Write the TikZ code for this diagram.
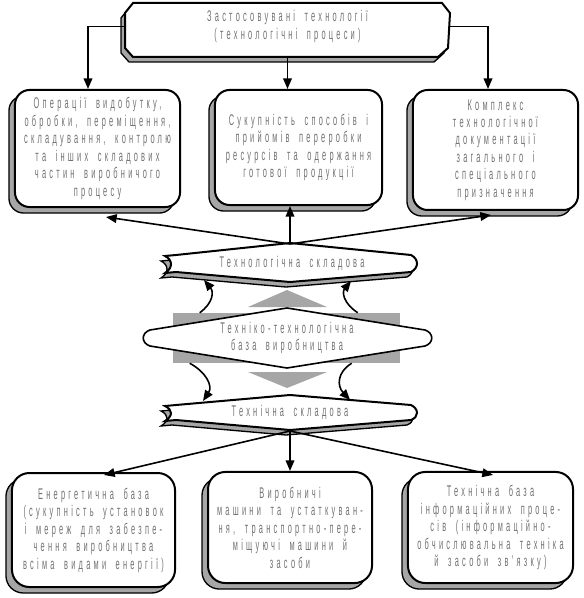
\documentclass[tikz,border=0pt]{standalone}
\usepackage{fontspec}
\setmainfont{Liberation Sans}[FakeStretch=0.48, LetterSpace=21, WordSpace=1.8]
\usetikzlibrary{shadows,calc,arrows.meta}
\newcommand\ribUpPath{(176,255) -- (290,243) -- (411,255) .. controls (419,259) and (419,268) .. (411,272) -- (290,282) -- (176,272) -- (165,273) .. controls (173,268) and (173,260) .. (165,256) -- cycle}
\newcommand\ribDnPath{(176,405) -- (290,395) -- (411,405) .. controls (419,409) and (419,417) .. (411,420) -- (290,430) -- (176,420) -- (165,421) .. controls (173,416) and (173,410) .. (165,406) -- cycle}
\newcommand\topBoxPath{(133,3) -- (442,3) -- (450,13) -- (448,48) -- (438,57) -- (133,57) -- (125,48) -- (125,13) -- cycle}
\newcommand\lensPath{(150,330) -- (287,308) -- (425,330) .. controls (434,333) and (434,343) .. (425,346) -- (287,368) -- (150,346) .. controls (141,343) and (141,333) .. (150,330) -- cycle}
\begin{document}
\begin{tikzpicture}[x=0.75pt,y=-0.75pt,
  txt/.style={font=\fontsize{11.6}{13.1}\selectfont, text=black!55, align=center},
  box/.style={txt, draw=black, line width=1.5pt, fill=white, rounded corners=11pt, inner sep=0pt,
     drop shadow={shadow xshift=-4.5pt, shadow yshift=-4.5pt, fill=gray!70, draw=black, line width=1pt, opacity=1}},
  lowbox/.style={box, rounded corners=13pt},
  arr/.style={line width=1.2pt, -{Triangle[length=8pt,width=6.5pt]}},
  shad/.style={fill=gray!70, draw=black, line width=1pt},
  face/.style={fill=white, draw=black, line width=1.5pt},
  graybit/.style={fill=gray!70, draw=none}]
\useasboundingbox (0,0) rectangle (583,598);

% central gray parts
\fill[graybit] (248,307) -- (327,307) -- (287,290) -- cycle;
\fill[graybit] (248,372) -- (327,372) -- (287,388) -- cycle;
\node[graybit, minimum width=170.25pt, minimum height=37.5pt, inner sep=0pt] (base) at (286.5,338) {};
\draw[face, line width=1.2pt] \lensPath;
\node[txt] (lens) at (287,338) {Техніко-технологічна\\база виробництва};

% ribbons
\draw[shad, shift={(-4,5)}] \ribUpPath;
\draw[face] \ribUpPath;
\node[txt] (rib1) at (292,263) {Технологічна складова};
\draw[shad, shift={(-4,5)}] \ribDnPath;
\draw[face] \ribDnPath;
\node[txt] (rib2) at (290,412) {Технічна складова};
\coordinate (r1t) at (290,244);
\coordinate (r2b) at (290,431);
\coordinate (r1l) at (204,280);
\coordinate (r1r) at (351,281);
\coordinate (r2l) at (203,401);
\coordinate (r2r) at (350,400);

% top box
\draw[shad, shift={(-4,5)}] \topBoxPath;
\draw[face] \topBoxPath;
\node[txt, minimum width=243.75pt, minimum height=45.75pt, inner sep=0pt] (tb) at (287.5,26.5)
  {Застосовувані технології\\(технологічні процеси)};

% upper boxes
\node[box, minimum width=123.8pt, minimum height=87.8pt] (b1) at (97.5,148.5)
  {Операції видобутку,\\обробки, переміщення,\\складування, контролю\\та інших складових\\частин виробничого\\процесу};
\node[box, minimum width=125.3pt, minimum height=86.3pt] (b2) at (298.5,147.5)
  {Сукупність способів і\\прийомів переробки\\ресурсів та одержання\\готової продукції};
\node[box, minimum width=123.8pt, minimum height=90pt] (b3) at (495.5,150)
  {Комплекс\\технологічної\\документації\\загального і\\спеціального\\призначення};

% lower boxes
\node[lowbox, minimum width=122.3pt, minimum height=85.5pt] (b4) at (93.5,530)
  {Енергетична база\\(сукупність установок\\і мереж для забезпе-\\чення виробництва\\всіма видами енергії)};
\node[lowbox, minimum width=123pt, minimum height=83.3pt] (b5) at (290,527.5)
  {Виробничі\\машини та устаткуван-\\ня, транспортно-пере-\\міщуючі машини й\\засоби};
\node[lowbox, minimum width=123.8pt, minimum height=83.3pt] (b6) at (490.5,527.5)
  {Технічна база\\інформаційних проце-\\сів (інформаційно-\\обчислювальна техніка\\й засоби зв’язку)};

% connectors from top box
\draw[arr] (tb.west) -| ($(b1.north)+(-9.5,0)$);
\draw[arr] (tb.south) -- (tb.south |- b2.north);
\draw[arr] (tb.east) -| ($(b3.north)+(-7.5,0)$);

% connectors from upper ribbon
\draw[arr] (r1t) -- ($(b1.south)+(8.5,9)$);
\draw[arr] (r1t) -- (r1t |- b2.south);
\draw[arr] (r1t) -- ($(b3.south)+(-4.5,4)$);

% connectors from lower ribbon
\draw[arr] (r2b) -- ($(b4.north)+(10.5,3)$);
\draw[arr] (r2b) -- (r2b |- b5.north);
\draw[arr] (r2b) -- ($(b6.north)+(2.5,4)$);

% curved connectors from the base
\draw[arr] ($(base.north west)+(27,0)$) .. controls (213,303) and (214,292) .. (r1l);
\draw[arr] ($(base.north west)+(185,0)$) .. controls (343,303) and (342,292) .. (r1r);
\draw[arr] ($(base.south west)+(17,0)$) .. controls (206,372) and (213,386) .. (r2l);
\draw[arr] ($(base.south west)+(179,0)$) .. controls (337,372) and (337,386) .. (r2r);
\end{tikzpicture}
\end{document}
